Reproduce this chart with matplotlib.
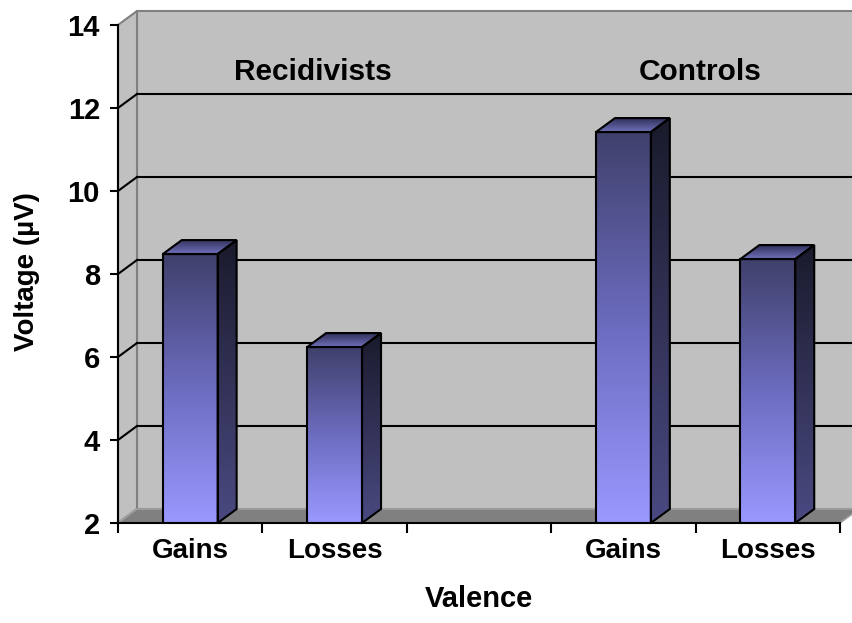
import numpy as np
import matplotlib
matplotlib.use("Agg")
import matplotlib.pyplot as plt
from matplotlib.patches import Polygon
from matplotlib.colors import LinearSegmentedColormap

plt.rcParams['font.family'] = ['Liberation Sans', 'DejaVu Sans']
plt.rcParams['font.weight'] = 'bold'

# data
categories = ["Gains", "Losses", "", "Gains", "Losses"]
voltage = [8.48, 6.24, np.nan, 11.42, 8.36]
group_labels = ["Recidivists", "Controls"]
group_label_x = [0.85, 3.53]
y_ticks = [2, 4, 6, 8, 10, 12, 14]

fig = plt.figure(figsize=(8.52, 6.23), dpi=100)
ax = fig.add_axes([118 / 852, 100 / 623, 722 / 852, 498 / 623])
ax.set_facecolor('none')
x0, x1 = -0.5, len(categories) - 0.5
y0, y1 = y_ticks[0], y_ticks[-1]
ax.set_xlim(x0, x1)
ax.set_ylim(y0, y1)

# depth of the fake 3d box, pixels -> data units
dx = 19 / 722 * (x1 - x0)
dy = 14 / 498 * (y1 - y0)

wall = '#c0c0c0'
edge = '#808080'
ax.add_patch(Polygon([(x0 + dx, y0 + dy), (x1 + dx, y0 + dy), (x1 + dx, y1 + dy), (x0 + dx, y1 + dy)],
                     fc=wall, ec=edge, lw=1.5, clip_on=False, zorder=0.2))
ax.add_patch(Polygon([(x0, y0), (x0 + dx, y0 + dy), (x0 + dx, y1 + dy), (x0, y1)],
                     fc=wall, ec=edge, lw=1.5, clip_on=False, zorder=0.2))
ax.add_patch(Polygon([(x0, y0), (x1, y0), (x1 + dx, y0 + dy), (x0 + dx, y0 + dy)],
                     fc='#808080', ec='#a0a0a0', lw=1.2, clip_on=False, zorder=0.3))

for v in y_ticks[1:-1]:
    ax.plot([x0 + dx, x1 + dx], [v + dy, v + dy], color='black', lw=1.5, clip_on=False, zorder=0.5)
    ax.plot([x0, x0 + dx], [v, v + dy], color='black', lw=1.5, clip_on=False, zorder=0.5)

front_cmap = LinearSegmentedColormap.from_list('front', ['#9999ff', '#6c6cc0', '#40406c'])
side_cmap = LinearSegmentedColormap.from_list('side', ['#4a4a82', '#1a1a2c'])
top_cmap = LinearSegmentedColormap.from_list('top', ['#7070bc', '#303058'])
grad = np.linspace(0, 1, 256).reshape(-1, 1)

w = 0.38
for i, v in enumerate(voltage):
    if np.isnan(v):
        continue
    xl, xr = i - w / 2, i + w / 2
    # front
    ax.imshow(grad, cmap=front_cmap, origin='lower', extent=(xl, xr, y0, v), aspect='auto', zorder=3)
    ax.add_patch(Polygon([(xl, y0), (xr, y0), (xr, v), (xl, v)], fill=False, ec='black', lw=1.5, zorder=3.5))
    # side
    side = Polygon([(xr, y0), (xr + dx, y0 + dy), (xr + dx, v + dy), (xr, v)], fill=False, ec='black', lw=1.5, zorder=3.5)
    ax.add_patch(side)
    im = ax.imshow(grad, cmap=side_cmap, origin='lower', extent=(xr, xr + dx, y0, v + dy), aspect='auto', zorder=3)
    im.set_clip_path(side)
    # top
    top = Polygon([(xl, v), (xr, v), (xr + dx, v + dy), (xl + dx, v + dy)], fill=False, ec='black', lw=1.5, zorder=3.5)
    ax.add_patch(top)
    im = ax.imshow(grad, cmap=top_cmap, origin='lower', extent=(xl, xr + dx, v, v + dy), aspect='auto', zorder=3)
    im.set_clip_path(top)

ax.set_xlim(x0, x1)
ax.set_ylim(y0, y1)

for lab, gx in zip(group_labels, group_label_x):
    ax.text(gx, 12.87, lab, ha='center', va='center', fontsize=21.5, fontweight='bold', zorder=4)

for s in ['top', 'right']:
    ax.spines[s].set_visible(False)
for s in ['left', 'bottom']:
    ax.spines[s].set_linewidth(1.5)
    ax.spines[s].set_zorder(4)

ax.set_yticks(y_ticks)
ax.set_yticklabels([str(t) for t in y_ticks])
ax.tick_params(axis='y', direction='out', length=6, width=1.5, labelsize=21, pad=7)
ax.set_xticks(np.arange(x0, x1 + 0.01, 1.0))
ax.set_xticklabels([])
ax.tick_params(axis='x', which='major', direction='out', length=7, width=1.5)
ax.set_xticks(range(len(categories)), minor=True)
ax.set_xticklabels(categories, minor=True)
ax.tick_params(axis='x', which='minor', length=0, labelsize=20, pad=11)

ax.set_xlabel('Valence', fontsize=21, fontweight='bold')
ax.xaxis.set_label_coords(0.5, -0.125)
ax.set_ylabel('Voltage (µV)', fontsize=20, fontweight='bold')
ax.yaxis.set_label_coords(-0.108, 0.504)

fig.savefig('out.png', dpi=100)
